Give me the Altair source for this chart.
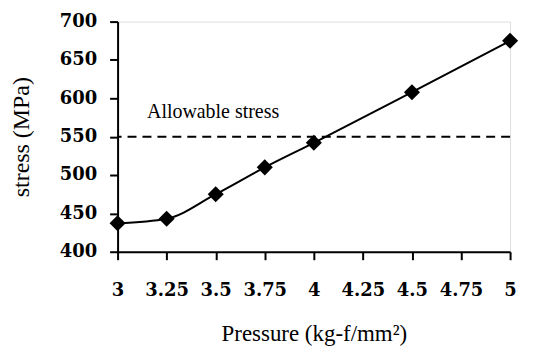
import altair as alt
import pandas as pd

pressure = [3, 3.25, 3.5, 3.75, 4, 4.5, 5]
stress = [437, 443, 475, 510, 542, 608, 675]
allowable = 550
x_ticks = [3, 3.25, 3.5, 3.75, 4, 4.25, 4.5, 4.75, 5]
y_ticks = [400, 450, 500, 550, 600, 650, 700]

df = pd.DataFrame({"p": pressure, "s": stress})
font = "Liberation Serif"
label_font = "DejaVu Serif"

x_scale = alt.Scale(domain=[3, 5], nice=False, zero=False)
y_scale = alt.Scale(domain=[400, 700], nice=False, zero=False)
x_axis = alt.Axis(values=x_ticks, labelExpr="'' + datum.value", title="Pressure (kg-f/mm²)",
                  grid=False, labelFont=label_font, labelFontSize=18, labelFontWeight="bold",
                  labelColor="black", titleFont=font, titleFontSize=23,
                  titleFontWeight="normal", titleColor="black",
                  tickSize=8, tickWidth=2, tickColor="black",
                  domainColor="black", domainWidth=2, labelOverlap=False,
                  labelPadding=22, titlePadding=23, labelFlush=False)
y_axis = alt.Axis(values=y_ticks, title="stress (MPa)", grid=False,
                  labelFont=label_font, labelFontSize=18, labelFontWeight="bold",
                  labelColor="black", titleFont=font, titleFontSize=24,
                  titleFontWeight="normal", titleColor="black",
                  tickSize=8, tickWidth=2, tickColor="black",
                  domainColor="black", domainWidth=2, labelOverlap=False,
                  labelPadding=13, titlePadding=26, labelFlush=False)


def X(f):
    return alt.X(f, scale=x_scale, axis=x_axis)


def Y(f):
    return alt.Y(f, scale=y_scale, axis=y_axis)


line = alt.Chart(df).mark_line(color="black", strokeWidth=2, interpolate="monotone").encode(
    x=X("p:Q"), y=Y("s:Q"))
pts = alt.Chart(df).mark_point(shape="diamond", filled=True, color="black", size=260, opacity=1).encode(
    x=X("p:Q"), y=Y("s:Q"))

rule_df = pd.DataFrame({"v": [allowable]})
rule = alt.Chart(rule_df).mark_rule(color="black", strokeWidth=2, strokeDash=[9, 6]).encode(y=Y("v:Q"))

txt_df = pd.DataFrame({"p": [3.15], "s": [582], "t": ["Allowable stress"]})
txt = alt.Chart(txt_df).mark_text(font=font, fontSize=20, align="left", baseline="middle", color="black").encode(
    x=X("p:Q"), y=Y("s:Q"), text="t:N")

chart = alt.layer(line, pts, rule, txt).properties(
    width=394, height=231,
    autosize=alt.AutoSizeParams(type="none"),
    padding={"left": 110, "top": 13, "right": 21, "bottom": 99},
).configure_view(stroke="black", strokeWidth=2).configure(background="white")

chart.save("out.html", embed_options={"renderer": "svg", "actions": False})
